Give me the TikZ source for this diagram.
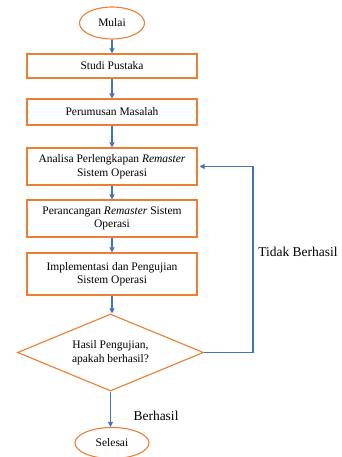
\documentclass[tikz,border=0pt]{standalone}
\usepackage{fontspec}
\setmainfont{Liberation Serif}
\usetikzlibrary{shapes.geometric,arrows.meta}
\definecolor{offorange}{HTML}{ED7D31}
\definecolor{offblue}{HTML}{4472C4}
\begin{document}
\begin{tikzpicture}[x=1pt,y=-1pt,
  procbox/.style={draw=offorange,line width=1.1pt,fill=white,minimum width=170pt,inner sep=0pt,align=center,font=\fontsize{11.5}{13.5}\selectfont},
  termnode/.style={ellipse,draw=offorange,line width=1.1pt,inner sep=0pt,font=\fontsize{11.5}{13.5}\selectfont},
  decnode/.style={diamond,draw=offorange,line width=1.1pt,inner sep=0pt,aspect=2.42,minimum width=186pt,minimum height=77pt,align=center,font=\fontsize{11.5}{13.5}\selectfont},
  flow/.style={draw=offblue,line width=1.1pt,-{Triangle[length=5pt,width=5pt]}},
  lbl/.style={inner sep=0pt,font=\fontsize{13.5}{16}\selectfont}]
\useasboundingbox (0,0) rectangle (341,457);
\node[termnode,minimum width=65pt,minimum height=32pt] (mulai) at (112,23) {Mulai};
\node[procbox,minimum height=24pt] (studi) at (112,66) {Studi Pustaka};
\node[procbox,minimum height=26pt] (rumus) at (112,112) {Perumusan Masalah};
\node[procbox,minimum height=37pt] (ana) at (112,166.5) {Analisa Perlengkapan \emph{Remaster}\\Sistem Operasi};
\node[procbox,minimum height=37pt] (ranc) at (112,218.5) {Perancangan \emph{Remaster} Sistem\\Operasi};
\node[procbox,minimum height=42pt] (impl) at (112,274) {Implementasi dan Pengujian\\Sistem Operasi};
\node[decnode] (dec) at (110.5,352.5) {Hasil Pengujian,\\apakah berhasil?};
\node[termnode,minimum width=74pt,minimum height=31pt] (selesai) at (112,443) {Selesai};
\coordinate (fb) at (253,166.5);
\draw[flow] (mulai) -- (studi);
\draw[flow] (studi) -- (rumus);
\draw[flow] (rumus) -- (ana);
\draw[flow] (ana) -- (ranc);
\draw[flow] (ranc) -- (impl);
\draw[flow] (impl.south) -- (impl.south |- dec.north);
\draw[flow] (dec.south) -- (dec.south |- selesai.north);
\draw[flow,shorten >=2pt] (dec.east) -| (fb) -- (ana.east);
\node[lbl] (tidak) at (298,252) {Tidak Berhasil};
\node[lbl] (berhasil) at (156,416) {Berhasil};
\end{tikzpicture}
\end{document}
